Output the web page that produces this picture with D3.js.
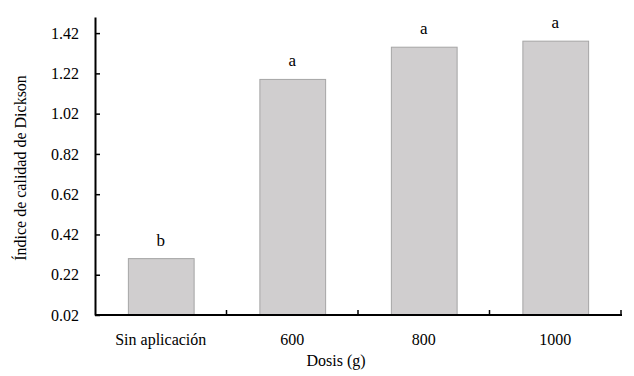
<!DOCTYPE html>
<html lang="es">
<head>
<meta charset="utf-8">
<title>Chart</title>
<style>
  body { margin: 0; background: #fff; }
  svg text { font-family: "Liberation Serif", "DejaVu Serif", serif !important; }
</style>
</head>
<body>
<svg></svg>
<script src="https://d3js.org/d3.v7.min.js"></script>
<script>
// data
const categories = ["Sin aplicación", "600", "800", "1000"]
const values = [0.30, 1.19, 1.35, 1.38]
const letters = ["b", "a", "a", "a"]
const yTicks = [0.02, 0.22, 0.42, 0.62, 0.82, 1.02, 1.22, 1.42]

const W = 634, H = 376
const margin = {top: 17, right: 13, bottom: 61, left: 95}
const width = W - margin.left - margin.right
const height = H - margin.top - margin.bottom

const svg = d3.select("svg").attr("width", W).attr("height", H)
const g = svg.append("g").attr("transform", "translate(" + margin.left + "," + margin.top + ")")

const x = d3.scaleBand().domain(categories).range([0, width]).paddingInner(0.5).paddingOuter(0.25)
const y = d3.scaleLinear().domain([0.02, 1.50]).range([height, 0])

// bars
g.selectAll(".bar")
  .data(values)
  .enter().append("rect")
  .attr("class", "bar")
  .attr("x", (d, i) => x(categories[i]) + 0.5)
  .attr("y", d => y(d))
  .attr("width", x.bandwidth())
  .attr("height", d => height - y(d))
  .attr("fill", "#d0cecf")
  .attr("stroke", "#a5a5a5")
  .attr("stroke-width", 1)

// letters above bars
g.selectAll(".lbl")
  .data(values)
  .enter().append("text")
  .attr("class", "lbl")
  .attr("text-anchor", "middle")
  .attr("x", (d, i) => x(categories[i]) + x.bandwidth() / 2)
  .attr("y", d => y(d) - 13)
  .style("font-size", "17px")
  .text((d, i) => letters[i])

// y axis
const yAxis = g.append("g")
  .call(d3.axisLeft(y).tickValues(yTicks).tickFormat(d3.format(".2f")).tickSizeInner(-5).tickSizeOuter(0).tickPadding(16))
yAxis.select(".domain").attr("stroke-width", 2)
yAxis.selectAll("line").attr("stroke-width", 1.5)
yAxis.selectAll("text").style("font-size", "16px")

// x axis (ticks at band borders)
const xAxis = g.append("g").attr("transform", "translate(0," + height + ")")
xAxis.append("line").attr("x1", 0).attr("x2", width + 1).attr("stroke", "#000").attr("stroke-width", 2)
const borders = d3.range(1, categories.length + 1).map(i => i * width / categories.length)
xAxis.selectAll(".xt")
  .data(borders)
  .enter().append("line")
  .attr("x1", d => d).attr("x2", d => d)
  .attr("y1", 0).attr("y2", -5)
  .attr("stroke", "#000").attr("stroke-width", 1.5)
xAxis.selectAll(".xl")
  .data(categories)
  .enter().append("text")
  .attr("text-anchor", "middle")
  .attr("x", d => x(d) + x.bandwidth() / 2)
  .attr("y", 30)
  .style("font-size", "16px")
  .text(d => d)

// axis titles
svg.append("text")
  .attr("text-anchor", "middle")
  .attr("x", 336)
  .attr("y", 366)
  .style("font-size", "16px")
  .text("Dosis (g)")

svg.append("text")
  .attr("text-anchor", "middle")
  .attr("transform", "translate(26,168) rotate(-90)")
  .style("font-size", "16px")
  .text("Índice de calidad de Dickson")
</script>
</body>
</html>
